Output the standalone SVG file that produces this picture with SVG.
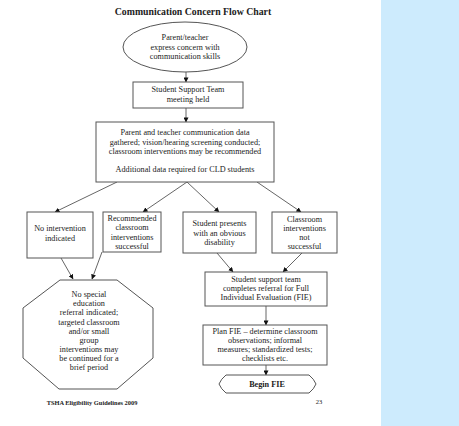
<svg xmlns="http://www.w3.org/2000/svg" width="459" height="426" viewBox="0 0 459 426">
<style>
.t{font-family:"Liberation Serif","Times New Roman",serif;font-size:8.2px;fill:#222;text-anchor:middle}
.b{font-weight:bold}
.s{fill:#fff;stroke:#555;stroke-width:1}
.c{stroke:#555;stroke-width:0.9;fill:none;marker-end:url(#ah)}
</style>
<defs>
<marker id="ah" viewBox="0 0 6 6" refX="5.5" refY="3" markerWidth="5" markerHeight="5" orient="auto" markerUnits="userSpaceOnUse">
<path d="M0,0 L6,3 L0,6 Z" fill="#111"/>
</marker>
</defs>
<rect x="0" y="0" width="459" height="426" fill="#fff"/>
<rect x="381" y="0" width="78" height="426" fill="#cdebfd"/>
<text class="t b" x="193" y="15" style="font-size:9.8px">Communication Concern Flow Chart</text>

<g id="connectors">
<line class="c" x1="186" y1="72" x2="186" y2="82"/>
<line class="c" x1="186" y1="108" x2="186" y2="122"/>
<line class="c" x1="117" y1="182" x2="55" y2="212"/>
<line class="c" x1="187" y1="182" x2="143" y2="212"/>
<line class="c" x1="187" y1="182" x2="219" y2="212"/>
<line class="c" x1="257" y1="182" x2="301" y2="212"/>
<line class="c" x1="61" y1="258" x2="73" y2="279"/>
<line class="c" x1="102" y1="252" x2="92" y2="279"/>
<line class="c" x1="217" y1="253" x2="233" y2="272"/>
<line class="c" x1="302" y1="253" x2="283" y2="272"/>
<line class="c" x1="266" y1="306" x2="266" y2="325"/>
<line class="c" x1="266" y1="365" x2="266" y2="375"/>
</g>

<g id="n1">
<ellipse class="s" cx="185" cy="47" rx="62" ry="25"/>
<text class="t" x="185" y="40">Parent/teacher</text>
<text class="t" x="185" y="49.5">express concern with</text>
<text class="t" x="185" y="59">communication skills</text>
</g>
<g id="n2">
<rect class="s" x="133" y="82" width="110" height="26"/>
<text class="t" x="188" y="92">Student Support Team</text>
<text class="t" x="188" y="101.5">meeting held</text>
</g>
<g id="n3">
<rect class="s" x="96" y="122" width="178" height="60"/>
<text class="t" x="185" y="135">Parent and teacher communication data</text>
<text class="t" x="185" y="144.5">gathered; vision/hearing screening conducted;</text>
<text class="t" x="185" y="154">classroom interventions may be recommended</text>
<text class="t" x="185" y="172">Additional data required for CLD students</text>
</g>
<g id="n4">
<rect class="s" x="27" y="212" width="66" height="46"/>
<text class="t" x="60" y="231">No intervention</text>
<text class="t" x="60" y="240.5">indicated</text>
</g>
<g id="n5">
<rect class="s" x="103" y="212" width="58" height="40"/>
<text class="t" x="132" y="221">Recommended</text>
<text class="t" x="132" y="230">classroom</text>
<text class="t" x="132" y="239.5">interventions</text>
<text class="t" x="132" y="249">successful</text>
</g>
<g id="n6">
<rect class="s" x="183" y="212" width="73" height="41"/>
<text class="t" x="219.5" y="226">Student presents</text>
<text class="t" x="219.5" y="235.5">with an obvious</text>
<text class="t" x="219.5" y="245">disability</text>
</g>
<g id="n7">
<rect class="s" x="272" y="212" width="65" height="41"/>
<text class="t" x="304.5" y="221.5">Classroom</text>
<text class="t" x="304.5" y="231">interventions</text>
<text class="t" x="304.5" y="240">not</text>
<text class="t" x="304.5" y="249">successful</text>
</g>
<g id="n8">
<polygon class="s" points="60,280 117,280 153,308 153,358 117,389 59,389 23,358 23,308"/>
<text class="t" x="89" y="297">No special</text>
<text class="t" x="89" y="306">education</text>
<text class="t" x="89" y="315">referral indicated;</text>
<text class="t" x="89" y="324.5">targeted classroom</text>
<text class="t" x="89" y="333.5">and/or small</text>
<text class="t" x="89" y="342.5">group</text>
<text class="t" x="89" y="351.5">interventions may</text>
<text class="t" x="89" y="360.5">be continued for a</text>
<text class="t" x="89" y="370">brief period</text>
</g>
<g id="n9">
<rect class="s" x="205" y="272" width="122" height="34"/>
<text class="t" x="266" y="282">Student support team</text>
<text class="t" x="266" y="291">completes referral for Full</text>
<text class="t" x="266" y="300">Individual Evaluation (FIE)</text>
</g>
<g id="n10">
<rect class="s" x="203" y="325" width="124" height="40"/>
<text class="t" x="265" y="334">Plan FIE – determine classroom</text>
<text class="t" x="265" y="343">observations; informal</text>
<text class="t" x="265" y="352">measures; standardized tests;</text>
<text class="t" x="265" y="361">checklists etc.</text>
</g>
<g id="n11">
<path class="s" d="M226,375 L309,375 Q314,379 316,384 Q314,389 309,393 L226,393 Q221,389 219,384 Q221,379 226,375 Z"/>
<text class="t b" x="267" y="387">Begin FIE</text>
</g>
<text class="t b" x="92" y="405" style="font-size:6.4px">TSHA Eligibility Guidelines 2009</text>
<text class="t" x="319" y="404" style="font-size:6.5px">23</text>
</svg>
